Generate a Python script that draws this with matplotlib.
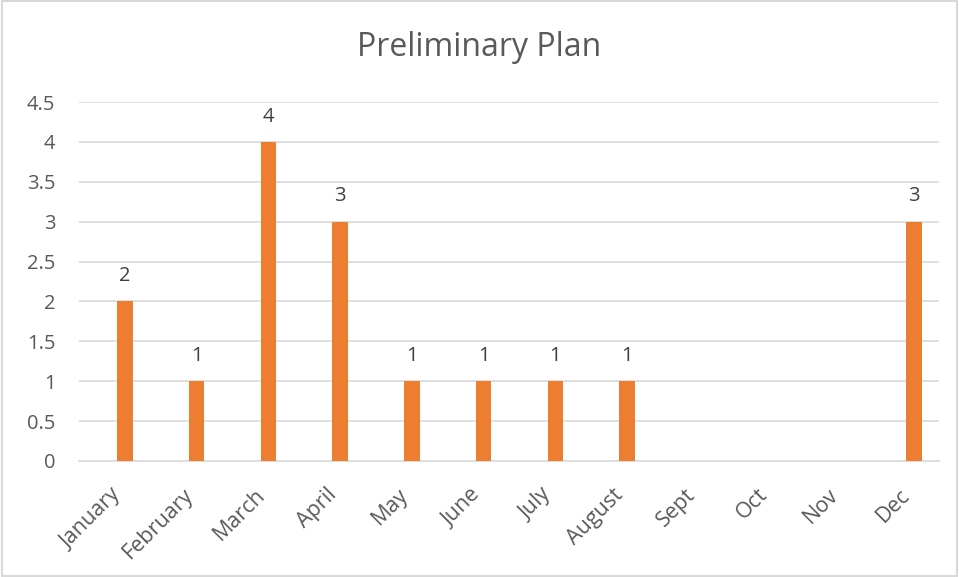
import numpy as np
import matplotlib
matplotlib.use("Agg")
import matplotlib.pyplot as plt
from matplotlib.transforms import ScaledTranslation

months = ["January", "February", "March", "April", "May", "June",
          "July", "August", "Sept", "Oct", "Nov", "Dec"]
values = [2, 1, 4, 3, 1, 1, 1, 1, 0, 0, 0, 3]

ORANGE, GRID, TXT = "#ED7D31", "#D9D9D9", "#595959"
plt.rcParams["font.family"] = ["Open Sans", "DejaVu Sans"]

fig = plt.figure(figsize=(9.59, 5.77), dpi=100)
ax = fig.add_axes([79 / 959, 1 - 461 / 577, 860 / 959, 359 / 577])

x = np.arange(len(months))
ax.bar(x, values, width=0.215, color=ORANGE, zorder=3)
for xi, v in zip(x, values):
    if v > 0:
        ax.annotate(f"{v:g}", xy=(xi, v), xytext=(0, 11), textcoords="offset points",
                    ha="center", va="bottom", fontsize=14.5, color="#404040")

ax.set_xlim(-0.64, 11.35)
ax.set_ylim(0, 4.5)
ticks = np.arange(0, 4.51, 0.5)
ax.set_yticks(ticks)
ax.set_yticklabels([f"{t:g}" for t in ticks])
ax.grid(axis="y", color=GRID, lw=1.2, zorder=0)
ax.set_xticks(x)
ax.set_xticklabels(months, rotation=45, ha="right", rotation_mode="anchor")
ax.tick_params(axis="both", length=0, labelsize=14.5, labelcolor=TXT)
ax.tick_params(axis="x", labelsize=15.5, pad=17)
ax.tick_params(axis="y", pad=17)
# nudge the slanted month labels left like the original
shift = ScaledTranslation(-14 / 100, 0, fig.dpi_scale_trans)
for lab in ax.get_xticklabels():
    lab.set_transform(lab.get_transform() + shift)
for s in ("top", "right", "left"):
    ax.spines[s].set_visible(False)
ax.spines["bottom"].set_color(GRID)
ax.spines["bottom"].set_linewidth(1.2)

fig.text(0.5, 1 - 47 / 577, "Preliminary Plan", ha="center", va="center",
         fontsize=23, color=TXT)
fig.patches.append(plt.Rectangle((0.002, 0.002), 0.996, 0.996, transform=fig.transFigure,
                                 fill=False, edgecolor=GRID, lw=1.5))
fig.savefig("out.png", dpi=100)
